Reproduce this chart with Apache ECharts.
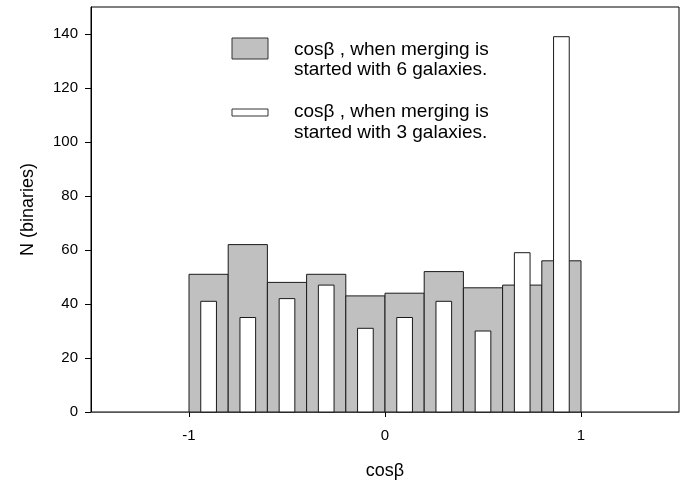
<!DOCTYPE html>
<html>
<head>
<meta charset="utf-8">
<script src="https://cdn.jsdelivr.net/npm/echarts@6/dist/echarts.min.js"></script>
<style>
html,body{margin:0;padding:0;background:#fff;}
#chart{width:686px;height:485px;}
</style>
</head>
<body>
<div id="chart"></div>
<script>
// Histogram bin centres of cos(beta) (bin width 0.2)
const binCenters = [-0.9, -0.7, -0.5, -0.3, -0.1, 0.1, 0.3, 0.5, 0.7, 0.9];
// N(binaries), merging started with 6 galaxies (grey bars)
const sixGalaxies = [51, 62, 48, 51, 43, 44, 52, 46, 47, 56];
// N(binaries), merging started with 3 galaxies (white bars)
const threeGalaxies = [41, 35, 42, 47, 31, 35, 41, 30, 59, 139];
const xTicks = [-1, 0, 1];
const yTicks = [0, 20, 40, 60, 80, 100, 120, 140];
const legendLines = [
  'cosβ , when merging is\nstarted with 6 galaxies.',
  'cosβ , when merging is\nstarted with 3 galaxies.'
];

const FONT = '"Liberation Sans", Arial, Helvetica, sans-serif';
const BIN_W = 0.2;
const WHITE_W = 0.08;

function makeRender(width, fill) {
  return function (params, api) {
    const c = api.value(0), v = api.value(1);
    const p0 = api.coord([c - width / 2, v]);
    const p1 = api.coord([c + width / 2, 0]);
    return {
      type: 'rect',
      shape: { x: p0[0], y: p0[1], width: p1[0] - p0[0], height: p1[1] - p0[1] },
      style: { fill: fill, stroke: '#1a1a1a', lineWidth: 1 }
    };
  };
}

const chart = echarts.init(document.getElementById('chart'), null, { renderer: 'canvas' });
chart.setOption({
  animation: false,
  backgroundColor: '#fff',
  textStyle: { fontFamily: FONT },
  grid: { left: 91, right: 7, top: 7, bottom: 73, show: true, borderColor: '#000', borderWidth: 1, backgroundColor: 'transparent' },
  xAxis: {
    type: 'value', min: -1.5, max: 1.5,
    name: 'cosβ', nameLocation: 'middle', nameGap: 50,
    nameTextStyle: { fontSize: 18, color: '#000', fontFamily: FONT },
    axisLine: { show: true, onZero: false, lineStyle: { color: '#555', width: 1 } },
    axisTick: { show: true, customValues: xTicks, length: 5, lineStyle: { color: '#000' } },
    axisLabel: { customValues: xTicks, fontSize: 15, color: '#000', margin: 16, fontFamily: FONT },
    splitLine: { show: false }
  },
  yAxis: {
    type: 'value', min: 0, max: 150,
    name: 'N (binaries)', nameLocation: 'middle', nameGap: 54, nameRotate: 90,
    nameTextStyle: { fontSize: 18, color: '#000', fontFamily: FONT },
    axisLine: { show: true, onZero: false, lineStyle: { color: '#000', width: 1 } },
    axisTick: { show: true, customValues: yTicks, length: 6, lineStyle: { color: '#000' } },
    axisLabel: { customValues: yTicks, fontSize: 15, color: '#000', margin: 13, fontFamily: FONT },
    splitLine: { show: false }
  },
  graphic: [
    { type: 'rect', shape: { x: 232, y: 38, width: 36, height: 21 }, style: { fill: '#c0c0c0', stroke: '#333', lineWidth: 1 } },
    { type: 'rect', shape: { x: 232, y: 109, width: 36, height: 7 }, style: { fill: '#fff', stroke: '#333', lineWidth: 1 } },
    { type: 'text', x: 294, y: 39.5, style: { text: legendLines[0], font: '19px ' + FONT, fill: '#000', lineHeight: 20.5, verticalAlign: 'top' } },
    { type: 'text', x: 294, y: 102, style: { text: legendLines[1], font: '19px ' + FONT, fill: '#000', lineHeight: 20.5, verticalAlign: 'top' } }
  ],
  series: [
    {
      type: 'custom', name: '6 galaxies',
      renderItem: makeRender(BIN_W, '#c0c0c0'),
      encode: { x: 0, y: 1 },
      data: binCenters.map((c, i) => [c, sixGalaxies[i]]),
      z: 2
    },
    {
      type: 'custom', name: '3 galaxies',
      renderItem: makeRender(WHITE_W, '#ffffff'),
      encode: { x: 0, y: 1 },
      data: binCenters.map((c, i) => [c, threeGalaxies[i]]),
      z: 3
    }
  ]
});
</script>
</body>
</html>
